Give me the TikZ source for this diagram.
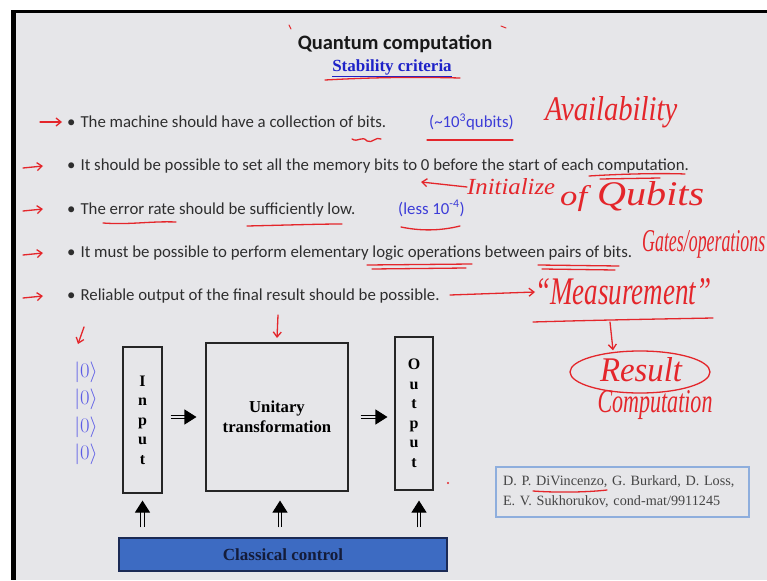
\documentclass[tikz,border=0pt]{standalone}
\usepackage{fontspec}
\setmainfont{Liberation Serif}
\newfontfamily\calfont{Carlito}
\usetikzlibrary{arrows.meta,calc,shapes.geometric}
\definecolor{bgc}{HTML}{E6E6E9}
\definecolor{txt}{HTML}{2E2E2E}
\definecolor{stab}{HTML}{1E22C8}
\definecolor{qb}{HTML}{3C3CD8}
\definecolor{ket}{HTML}{5A5AE6}
\definecolor{hred}{HTML}{E4262B}
\definecolor{ctrlfill}{HTML}{3D6BC2}
\definecolor{ctrlline}{HTML}{1B2A55}
\definecolor{ctrltext}{HTML}{141C3A}
\definecolor{citeline}{HTML}{8EAEDD}
\definecolor{citetext}{HTML}{454545}
\begin{document}
\begin{tikzpicture}[x=1pt,y=-1pt,
  bul/.style={anchor=base west, font=\calfont\fontsize{16.8}{19}\selectfont, text=txt, inner sep=0pt},
  blu/.style={anchor=base west, font=\calfont\fontsize{16.8}{19}\selectfont, text=qb, inner sep=0pt},
  hand/.style={text=hred, inner sep=0pt, font=\itshape},
  hl/.style={draw=hred, line width=1.3pt, line cap=round, line join=round},
  harr/.style={hl, -{Straight Barb[length=5pt,width=8pt]}},
  boxed/.style={draw=black!85, line width=1.1pt, inner sep=0pt, align=center},
  dbl/.style={draw=black, line width=1.1pt, double=bgc, double distance=2.4pt, -{Triangle[length=12pt,width=15pt]}},
  ketst/.style={text=ket, font=\fontsize{20}{22}\selectfont, inner sep=0pt}
]
\useasboundingbox (0,0) rectangle (767,580);
\fill[white] (0,0) rectangle (767,580);
\fill[black] (11,10) rectangle (767,13);
\fill[black] (11,10) rectangle (16,580);
\fill[bgc] (16,13) rectangle (767,580);

% titles
\node[font=\calfont\bfseries\fontsize{20.5}{24}\selectfont, text=black!90, inner sep=1pt] (title) at (395,44) {Quantum computation};
\node[font=\bfseries\fontsize{17}{19}\selectfont, text=stab, inner sep=1pt] (stab) at (392,68) {\underline{Stability criteria}};
\draw[hl] (325,80) .. controls (380,77) and (420,77) .. (460,78);
\draw[hl, line width=1pt] (289,25) -- (291,29);
\draw[hl, line width=1pt] (501,26) -- (506,28);

% bullets
\node[bul] (b1) at (67,127.5) {\textbullet\hspace{5pt}The machine should have a collection of bits.};
\node[blu] (q1) at (429,127.5) {(\textasciitilde10\textsuperscript{3}qubits)};
\node[bul] (b2) at (67,170.5) {\textbullet\hspace{5pt}It should be possible to set all the memory bits to 0 before the start of each computation.};
\node[bul] (b3) at (67,214) {\textbullet\hspace{5pt}The error rate should be sufficiently low.};
\node[blu] (q3) at (398,214) {(less 10\textsuperscript{-4})};
\node[bul] (b4) at (67,257.5) {\textbullet\hspace{5pt}It must be possible to perform elementary logic operations between pairs of bits.};
\node[bul] (b5) at (67,300.5) {\textbullet\hspace{5pt}Reliable output of the final result should be possible.};

% red arrows before bullets
\coordinate (a1) at (40,122);
\draw[harr] (a1) -- ([xshift=-5pt]b1.west |- a1);
\foreach \b/\yy in {b2/166, b3/209, b4/253, b5/296}{
  \coordinate (s\b) at (23,\yy+2);
  \draw[harr] (s\b) -- ([xshift=-24pt]\b.west |- 0,\yy);
}

% handwriting
\node[hand, anchor=west] (avail) at (545,112) {\resizebox{132pt}{24pt}{Availability}};
\draw[hl] (352,139) .. controls (358,143) and (362,135) .. (367,141) .. controls (372,144) and (376,136) .. (381,139);
\draw[hl] (427,140) -- (513,140);
\draw[hl] (589,176) .. controls (620,174) and (660,173) .. (685,174);
\draw[hl] (600,179) -- (660,178);
\node[hand, anchor=west] (init) at (467,187) {\resizebox{88pt}{16pt}{Initialize}};
\node[hand, anchor=west] (of) at (560,199) {\resizebox{27pt}{20pt}{of}};
\node[hand, anchor=west] (qub) at (597,196) {\resizebox{107pt}{24pt}{Qubits}};
\draw[harr] (init.west) -- (421,182);
\draw[hl] (103,223) .. controls (130,225) and (150,221) .. (176,222);
\draw[hl] (247,226) .. controls (290,225) and (320,224) .. (342,224);
\draw[hl] (401,227) .. controls (420,231) and (440,231) .. (460,226);
\draw[hl] (367,265) -- (472,264);
\draw[hl] (372,269) -- (466,268);
\draw[hl] (538,265) -- (619,266);
\draw[hl] (542,269) -- (615,270);
\node[hand, anchor=west] (gates) at (642,244) {\resizebox{123pt}{21pt}{Gates/operations}};
\node[hand, anchor=west] (meas) at (535,292) {\resizebox{176pt}{26pt}{``Measurement''}};
\draw[harr] ([xshift=10pt]b5.east |- 0,295) -- (meas.west);
\draw[hl] (533,322) .. controls (600,320) and (660,319) .. (713,318);
\node[draw=hred, line width=1.3pt, ellipse, minimum width=140pt, minimum height=42pt, inner sep=0pt] (res) at (640,372) {};
\node[hand] (rtxt) at (641,370) {\resizebox{82pt}{24pt}{Result}};
\draw[harr] (610,322) -- (res.north -| 613,0);
\node[hand] (comp) at (655,405) {\resizebox{115pt}{22pt}{Computation}};
\fill[hred] (448,483) circle (1.2);

% diagram
\node[ketst] (k1) at (86,372) {$|0\rangle$};
\node[ketst] (k2) at (86,399) {$|0\rangle$};
\node[ketst] (k3) at (86,427) {$|0\rangle$};
\node[ketst] (k4) at (86,454) {$|0\rangle$};
\draw[harr] (84,327) -- (78,344);
\draw[harr] (278,315) -- (277,338);

\node[boxed, minimum width=39pt, minimum height=146pt, font=\bfseries\fontsize{16}{19.5}\selectfont] (inp) at (142.5,420) {I\\n\\p\\u\\t};
\node[boxed, minimum width=142pt, minimum height=148pt, font=\bfseries\fontsize{16.7}{20}\selectfont] (uni) at (277,417) {Unitary\\transformation};
\node[boxed, minimum width=38pt, minimum height=153pt, font=\bfseries\fontsize{16}{19.5}\selectfont] (out) at (414,413.5) {O\\u\\t\\p\\u\\t};
\node[draw=ctrlline, fill=ctrlfill, line width=1.3pt, minimum width=328pt, minimum height=33pt, inner sep=0pt, text=ctrltext, font=\bfseries\fontsize{17}{19}\selectfont] (ctrl) at (283,554.5) {Classical control};

\draw[dbl] ([xshift=8pt]inp.east |- uni.west) -- ([xshift=-9pt]uni.west);
\draw[dbl] ([xshift=12pt]uni.east) -- ([xshift=-7pt]out.west |- uni.east);
\draw[dbl] ([yshift=10pt]ctrl.north -| inp.south) -- ([yshift=-7pt]inp.south);
\draw[dbl] ([yshift=10pt,xshift=3pt]ctrl.north -| uni.south) -- ([yshift=-9pt,xshift=3pt]uni.south);
\draw[dbl] ([yshift=10pt,xshift=5pt]ctrl.north -| out.south) -- ([yshift=-10pt,xshift=5pt]out.south);

\node[draw=citeline, line width=1.2pt, inner xsep=7pt, text width=239pt, minimum height=50pt, align=left, text=citetext, font=\fontsize{14.2}{20}\selectfont] (cite) at (622.5,492) {D. P. DiVincenzo, G. Burkard, D. Loss,\\E. V. Sukhorukov, cond-mat/9911245};
\draw[hl] (533,491) .. controls (560,493) and (590,492) .. (607,490);
\end{tikzpicture}
\end{document}
